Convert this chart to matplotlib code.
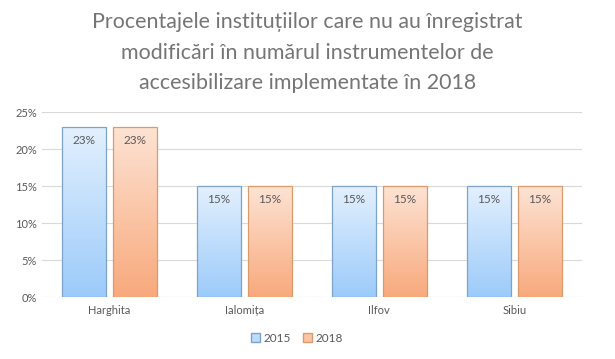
import numpy as np
import matplotlib.pyplot as plt
from matplotlib.colors import LinearSegmentedColormap
from matplotlib.patches import Patch
from matplotlib.ticker import PercentFormatter

plt.rcParams['font.family'] = ['Lato', 'DejaVu Sans']

# data
judete = ['Harghita', 'Ialomița', 'Ilfov', 'Sibiu']
val_2015 = [23, 15, 15, 15]
val_2018 = [23, 15, 15, 15]
ani = ['2015', '2018']

title = ('Procentajele instituțiilor care nu au înregistrat\n'
         'modificări în numărul instrumentelor de\n'
         'accesibilizare implementate în 2018')

fig = plt.figure(figsize=(6.15, 3.59), dpi=100)
ax = fig.add_axes([0.068, 0.1727, 0.878, 0.5153])

x = np.arange(len(judete))
w = 0.325
off = 0.19

# gradient colors (top, bottom) and edges
grad = {
    '2015': (('#e3f0fe', '#9ccbfa'), '#7ea3c8'),
    '2018': (('#fde3d4', '#f8a97c'), '#d99a6c'),
}

grey = '#595959'
for vals, name, sgn in [(val_2015, '2015', -1), (val_2018, '2018', 1)]:
    (ctop, cbot), edge = grad[name]
    cmap = LinearSegmentedColormap.from_list(name, [cbot, ctop])
    bars = ax.bar(x + sgn * off, vals, w, facecolor='none', edgecolor=edge, linewidth=0.9, zorder=3)
    for b, v in zip(bars, vals):
        x0, y0 = b.get_x(), b.get_y()
        x1, y1 = x0 + b.get_width(), y0 + b.get_height()
        g = np.linspace(0, 1, 256).reshape(-1, 1)
        im = ax.imshow(g, cmap=cmap, origin='lower', extent=[x0, x1, y0, y1],
                       aspect='auto', zorder=2)
        im.set_clip_path(b)
        ax.text(b.get_x() + b.get_width() / 2, v - 1.1, f'{v}%', ha='center', va='top',
                fontsize=8.5, color=grey, zorder=4)

ax.set_xlim(-0.5, len(judete) - 0.5)
ax.set_ylim(0, 25)
ax.set_yticks(np.arange(0, 26, 5))
ax.yaxis.set_major_formatter(PercentFormatter(decimals=0))
ax.set_xticks(x)
ax.set_xticklabels(judete)
ax.tick_params(axis='both', length=0, labelsize=8, colors=grey)
ax.tick_params(axis='x', pad=6)
ax.grid(axis='y', color='#d9d9d9', linewidth=0.8, zorder=0)
for s in ax.spines.values():
    s.set_visible(False)
ax.axhline(0, color='#d9d9d9', linewidth=0.8, zorder=1)

handles = [Patch(facecolor='#bcdcfc', edgecolor='#7ea3c8', label='2015'),
           Patch(facecolor='#fbc5a6', edgecolor='#d99a6c', label='2018')]
fig.legend(handles=handles, loc='center', bbox_to_anchor=(0.483, 0.058), ncol=2, frameon=False,
           fontsize=8.5, handlelength=0.8, handleheight=0.8, handletextpad=0.3, columnspacing=1.0,
           labelcolor=grey)

fig.text(0.5, 0.853, title, ha='center', va='center', fontsize=15.4, color='#757575',
         linespacing=1.65)

fig.savefig('out.png', dpi=100)
